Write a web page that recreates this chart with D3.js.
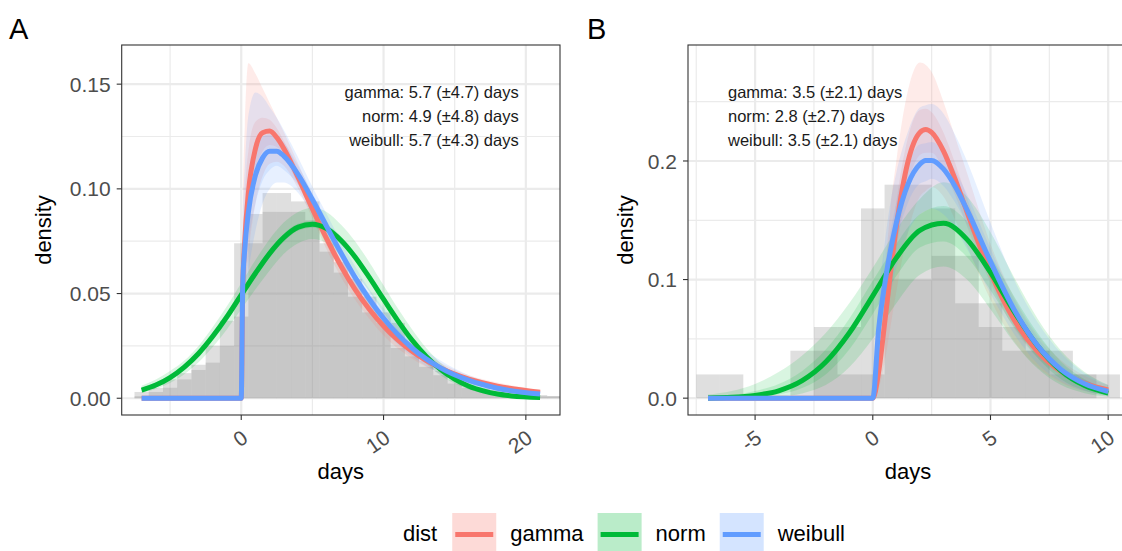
<!DOCTYPE html>
<html>
<head>
<meta charset="utf-8">
<script src="https://d3js.org/d3.v7.min.js"></script>
<style>
  body { margin: 0; background: #fff; }
  svg { display: block; font-family: 'Liberation Sans', Arial, Helvetica, sans-serif; }
</style>
</head>
<body>
<svg id="chart" width="1122" height="551"></svg>
<script>
const dists = ['gamma', 'norm', 'weibull'];
const distColors = ['#F8766D', '#00BA38', '#619CFF'];

// ---- panel A data ----
const binsA = [-7, -6, -5, -4, -3, -2, -1, 0, 1, 2, 3, 4, 5, 6, 7, 8, 9, 10, 11, 12, 13, 14, 15, 16, 17, 18, 19, 20, 21, 22];
const histA1 = [0.003, 0.005, 0.009, 0.012, 0.016, 0.025, 0.037, 0.074, 0.088, 0.098, 0.089, 0.089, 0.085, 0.07, 0.06, 0.0485, 0.041, 0.036, 0.024, 0.02, 0.015, 0.011, 0.007, 0.005, 0.004, 0.003, 0.002, 0.0015, 0.001, 0.001];
const histA2 = [0.001, 0.003, 0.005, 0.009, 0.0135, 0.017, 0.025, 0.039, 0.074, 0.089, 0.098, 0.094, 0.094, 0.074, 0.065, 0.057, 0.0485, 0.041, 0.036, 0.024, 0.018, 0.013, 0.009, 0.006, 0.005, 0.004, 0.003, 0.002, 0.0015, 0.001];

const skewXA = [-7, 0, 0.1, 0.25, 0.5, 1, 1.5, 2, 2.5, 3, 4, 5, 6, 7, 8, 9, 10, 12, 14, 16, 18, 21];
const gammaA = [0, 0, 0.051, 0.0754, 0.0979, 0.1192, 0.1268, 0.1276, 0.1245, 0.1192, 0.1054, 0.0905, 0.0762, 0.0633, 0.052, 0.0425, 0.0345, 0.0224, 0.0144, 0.0091, 0.0058, 0.0029];
const gammaAHi95 = [0, 0, 0.09, 0.13, 0.16, 0.155, 0.148, 0.141, 0.134, 0.127, 0.112, 0.097, 0.082, 0.068, 0.056, 0.046, 0.038, 0.026, 0.017, 0.011, 0.0075, 0.004];
const gammaALo95 = [0, 0, 0.03, 0.048, 0.068, 0.093, 0.106, 0.112, 0.113, 0.111, 0.1, 0.086, 0.071, 0.058, 0.047, 0.038, 0.03, 0.019, 0.0118, 0.0072, 0.0043, 0.002];
const gammaAHi50 = [0, 0, 0.065, 0.095, 0.118, 0.132, 0.134, 0.133, 0.129, 0.123, 0.109, 0.093, 0.079, 0.066, 0.054, 0.044, 0.036, 0.024, 0.0155, 0.01, 0.0065, 0.0034];
const gammaALo50 = [0, 0, 0.042, 0.063, 0.085, 0.108, 0.118, 0.121, 0.12, 0.115, 0.102, 0.088, 0.073, 0.061, 0.05, 0.041, 0.033, 0.021, 0.0133, 0.0083, 0.0051, 0.0025];
const weibullA = [0, 0, 0.0529, 0.0715, 0.0887, 0.1065, 0.1148, 0.118, 0.118, 0.1156, 0.1068, 0.0949, 0.0821, 0.0695, 0.0577, 0.0473, 0.0382, 0.024, 0.0145, 0.0085, 0.0048, 0.002];
const weibullAHi95 = [0, 0, 0.085, 0.11, 0.135, 0.146, 0.144, 0.139, 0.134, 0.128, 0.115, 0.101, 0.088, 0.075, 0.063, 0.052, 0.043, 0.028, 0.018, 0.011, 0.0068, 0.0032];
const weibullALo95 = [0, 0, 0.03, 0.045, 0.06, 0.08, 0.093, 0.1, 0.103, 0.103, 0.098, 0.088, 0.076, 0.064, 0.052, 0.042, 0.033, 0.02, 0.0115, 0.0062, 0.0032, 0.0011];
const weibullAHi50 = [0, 0, 0.065, 0.085, 0.104, 0.12, 0.125, 0.126, 0.125, 0.122, 0.111, 0.098, 0.085, 0.072, 0.06, 0.05, 0.041, 0.026, 0.016, 0.0095, 0.0056, 0.0025];
const weibullALo50 = [0, 0, 0.042, 0.058, 0.074, 0.093, 0.104, 0.109, 0.111, 0.109, 0.102, 0.091, 0.079, 0.067, 0.055, 0.045, 0.036, 0.022, 0.013, 0.0074, 0.004, 0.0015];

const normXA = [-7, -6, -5, -4, -3, -2, -1, 0, 1, 2, 3, 4, 5, 6, 7, 8, 9, 10, 11, 12, 13, 14, 15, 16, 17, 18, 19, 21];
const normA = [0.0039, 0.0063, 0.0099, 0.0149, 0.0214, 0.0296, 0.039, 0.0494, 0.0597, 0.0692, 0.0768, 0.0817, 0.0831, 0.081, 0.0755, 0.0675, 0.0577, 0.0473, 0.0371, 0.0278, 0.02, 0.0138, 0.0091, 0.0057, 0.0035, 0.002, 0.0011, 0.0004];
const normAHi95 = [0.006, 0.009, 0.013, 0.018, 0.025, 0.034, 0.044, 0.055, 0.066, 0.076, 0.084, 0.089, 0.091, 0.089, 0.083, 0.075, 0.065, 0.054, 0.043, 0.033, 0.024, 0.017, 0.012, 0.008, 0.005, 0.003, 0.002, 0.0006];
const normALo95 = [0.0025, 0.0044, 0.0073, 0.0115, 0.0172, 0.0245, 0.033, 0.0425, 0.052, 0.061, 0.069, 0.074, 0.076, 0.074, 0.068, 0.06, 0.051, 0.041, 0.032, 0.023, 0.0165, 0.011, 0.007, 0.0042, 0.0024, 0.0013, 0.0007, 0.0001];
const normAHi50 = [0.0048, 0.0075, 0.0113, 0.0165, 0.0232, 0.0316, 0.0412, 0.0516, 0.0618, 0.0712, 0.0787, 0.0834, 0.0848, 0.0828, 0.0774, 0.0694, 0.0596, 0.0492, 0.0389, 0.0294, 0.0213, 0.0148, 0.0099, 0.0063, 0.0039, 0.0023, 0.0013, 0.0004];
const normALo50 = [0.003, 0.0052, 0.0086, 0.0133, 0.0196, 0.0276, 0.0368, 0.0472, 0.0576, 0.0672, 0.0749, 0.08, 0.0814, 0.0792, 0.0736, 0.0656, 0.0558, 0.0454, 0.0353, 0.0262, 0.0187, 0.0128, 0.0083, 0.0051, 0.0031, 0.0017, 0.0009, 0.0002];

const annoA = ['gamma: 5.7 (\u00b14.7) days', 'norm: 4.9 (\u00b14.8) days', 'weibull: 5.7 (\u00b14.3) days'];

// ---- panel B data ----
const binsB = [-7, -6, -5, -4, -3, -2, -1, 0, 1, 2, 3, 4, 5, 6, 7, 8, 9, 10];
const histB1 = [0.02, 0, 0, 0, 0.04, 0.06, 0.02, 0.16, 0.18, 0.1, 0.12, 0.08, 0.06, 0.04, 0.04, 0.02, 0.02, 0];
const histB2 = [0, 0.02, 0, 0, 0, 0.04, 0.06, 0.02, 0.1, 0.18, 0.16, 0.12, 0.08, 0.06, 0.04, 0.04, 0.02, 0.02];

const skewXB = [-7, 0, 0.25, 0.5, 0.75, 1, 1.5, 2, 2.25, 2.5, 3, 3.5, 4, 5, 6, 7, 8, 9, 10];
const gammaB = [0, 0, 0.0223, 0.0627, 0.1057, 0.1445, 0.1999, 0.2241, 0.2266, 0.2241, 0.2085, 0.1844, 0.1571, 0.1057, 0.0661, 0.0393, 0.0225, 0.0126, 0.0069];
const gammaBHi95 = [0, 0, 0.04, 0.1, 0.16, 0.2, 0.26, 0.283, 0.281, 0.275, 0.25, 0.22, 0.19, 0.13, 0.085, 0.053, 0.032, 0.019, 0.011];
const gammaBLo95 = [0, 0, 0.008, 0.03, 0.06, 0.09, 0.14, 0.17, 0.175, 0.178, 0.17, 0.15, 0.128, 0.083, 0.048, 0.026, 0.013, 0.006, 0.003];
const gammaBHi50 = [0, 0, 0.03, 0.078, 0.125, 0.165, 0.22, 0.243, 0.244, 0.241, 0.224, 0.198, 0.169, 0.115, 0.073, 0.045, 0.026, 0.015, 0.0085];
const gammaBLo50 = [0, 0, 0.015, 0.048, 0.087, 0.124, 0.18, 0.205, 0.207, 0.207, 0.193, 0.171, 0.145, 0.097, 0.059, 0.034, 0.019, 0.0102, 0.0053];
const weibullB = [0, 0, 0.0585, 0.0952, 0.1243, 0.1478, 0.1807, 0.1973, 0.2004, 0.2005, 0.1933, 0.1785, 0.159, 0.1151, 0.0748, 0.0443, 0.0241, 0.0121, 0.0056];
const weibullBHi95 = [0, 0, 0.085, 0.13, 0.165, 0.19, 0.225, 0.245, 0.247, 0.248, 0.24, 0.222, 0.2, 0.148, 0.1, 0.064, 0.038, 0.021, 0.011];
const weibullBLo95 = [0, 0, 0.035, 0.063, 0.088, 0.11, 0.14, 0.155, 0.158, 0.16, 0.155, 0.143, 0.126, 0.088, 0.054, 0.029, 0.014, 0.006, 0.002];
const weibullBHi50 = [0, 0, 0.07, 0.11, 0.14, 0.165, 0.198, 0.214, 0.215, 0.216, 0.208, 0.192, 0.172, 0.126, 0.083, 0.051, 0.029, 0.015, 0.0075];
const weibullBLo50 = [0, 0, 0.048, 0.082, 0.11, 0.132, 0.165, 0.181, 0.183, 0.185, 0.179, 0.165, 0.147, 0.105, 0.067, 0.038, 0.02, 0.0095, 0.004];

const normXB = [-7, -6, -5, -4, -3, -2, -1, 0, 1, 2, 3, 4, 5, 6, 7, 8, 9, 10];
const normB = [0.0002, 0.0007, 0.0023, 0.0062, 0.0147, 0.0304, 0.0549, 0.0863, 0.1183, 0.1414, 0.1474, 0.1339, 0.106, 0.0732, 0.0441, 0.0231, 0.0106, 0.0042];
const normBHi95 = [0.003, 0.006, 0.012, 0.022, 0.036, 0.055, 0.08, 0.11, 0.142, 0.168, 0.182, 0.17, 0.14, 0.102, 0.067, 0.04, 0.022, 0.011];
const normBLo95 = [0, 0, 0.0003, 0.0012, 0.004, 0.011, 0.026, 0.05, 0.08, 0.104, 0.111, 0.1, 0.075, 0.047, 0.025, 0.011, 0.0042, 0.0013];
const normBHi50 = [0.001, 0.0025, 0.006, 0.012, 0.023, 0.041, 0.067, 0.099, 0.13, 0.155, 0.162, 0.149, 0.12, 0.086, 0.055, 0.031, 0.016, 0.0075];
const normBLo50 = [0, 0.0001, 0.0008, 0.003, 0.0085, 0.02, 0.041, 0.071, 0.103, 0.127, 0.132, 0.119, 0.091, 0.06, 0.034, 0.016, 0.0065, 0.0022];

const annoB = ['gamma: 3.5 (\u00b12.1) days', 'norm: 2.8 (\u00b12.7) days', 'weibull: 3.5 (\u00b12.1) days'];

// TODO: layout constants
const textGrey = '#4d4d4d';
const gridGrey = '#ebebeb';

const svg = d3.select('#chart');
svg.append('rect').attr('width', 1122).attr('height', 551).attr('fill', '#fff');

function zip(xs, ys) {
  return xs.map((x, i) => ({ x, y: ys[i] }));
}
function zipBand(xs, lo, hi) {
  return xs.map((x, i) => ({ x, lo: lo[i], hi: hi[i] }));
}

function drawPanel(p) {
  const x = d3.scaleLinear().domain(p.xDomain).range([p.left, p.right]);
  const y = d3.scaleLinear().domain(p.yDomain).range([p.bottom, p.top]);
  const g = svg.append('g');

  const clipId = `clip-${p.label}`;
  g.append('clipPath').attr('id', clipId)
    .append('rect')
    .attr('x', p.left).attr('y', p.top)
    .attr('width', p.right - p.left).attr('height', p.bottom - p.top);

  // Grid
  const grid = g.append('g').attr('clip-path', `url(#${clipId})`);
  const vLines = (vals, w) => grid.append('g').selectAll('line').data(vals).join('line')
    .attr('x1', (d) => x(d)).attr('x2', (d) => x(d))
    .attr('y1', p.top).attr('y2', p.bottom)
    .attr('stroke', gridGrey).attr('stroke-width', w);
  const hLines = (vals, w) => grid.append('g').selectAll('line').data(vals).join('line')
    .attr('y1', (d) => y(d)).attr('y2', (d) => y(d))
    .attr('x1', p.left).attr('x2', p.right)
    .attr('stroke', gridGrey).attr('stroke-width', w);
  vLines(p.xMinor, 1.2);
  hLines(p.yMinor, 1.2);
  vLines(p.xTicks, 2.2);
  hLines(p.yTicks, 2.2);

  const plot = g.append('g').attr('clip-path', `url(#${clipId})`);

  // Histograms (overlaid, semi transparent)
  p.hists.forEach((h) => {
    plot.append('g').selectAll('rect')
      .data(p.bins.map((b, i) => ({ b, v: h[i] })).filter((d) => d.v > 0))
      .join('rect')
      .attr('x', (d) => x(d.b - 0.5))
      .attr('width', (d) => x(d.b + 0.5) - x(d.b - 0.5))
      .attr('y', (d) => y(d.v))
      .attr('height', (d) => y(0) - y(d.v))
      .attr('fill', '#7f7f7f')
      .attr('fill-opacity', 0.25);
  });

  // Ribbons
  const area = d3.area()
    .x((d) => x(d.x)).y0((d) => y(d.lo)).y1((d) => y(d.hi))
    .curve(d3.curveMonotoneX);
  p.series.forEach((s, i) => {
    s.bands.forEach((band) => {
      plot.append('path')
        .attr('d', area(band))
        .attr('fill', distColors[i])
        .attr('fill-opacity', 0.15);
    });
  });

  // Fitted density lines
  const line = d3.line().x((d) => x(d.x)).y((d) => y(d.y)).curve(d3.curveMonotoneX);
  p.series.forEach((s, i) => {
    plot.append('path')
      .attr('d', line(s.line))
      .attr('fill', 'none')
      .attr('stroke', distColors[i])
      .attr('stroke-width', 5)
      .attr('stroke-linejoin', 'round');
  });

  // Annotation
  const anno = g.append('text')
    .attr('font-size', 16.5)
    .attr('fill', '#1a1a1a')
    .attr('text-anchor', p.annoAnchor);
  p.anno.forEach((t, i) => {
    anno.append('tspan').attr('x', x(p.annoX)).attr('y', p.annoY + i * 24).text(t);
  });

  // Panel border
  g.append('rect')
    .attr('x', p.left).attr('y', p.top)
    .attr('width', p.right - p.left).attr('height', p.bottom - p.top)
    .attr('fill', 'none').attr('stroke', '#333333').attr('stroke-width', 1.1);

  // Y axis
  const yAx = g.append('g');
  yAx.selectAll('line').data(p.yTicks).join('line')
    .attr('x1', p.left - 5).attr('x2', p.left)
    .attr('y1', (d) => y(d)).attr('y2', (d) => y(d))
    .attr('stroke', '#333333').attr('stroke-width', 1.1);
  yAx.selectAll('text').data(p.yTicks).join('text')
    .attr('x', p.left - 11).attr('y', (d) => y(d)).attr('dy', '0.36em')
    .attr('text-anchor', 'end').attr('font-size', 21).attr('fill', textGrey)
    .text(p.yFormat);

  // X axis
  const xAx = g.append('g');
  xAx.selectAll('line').data(p.xTicks).join('line')
    .attr('x1', (d) => x(d)).attr('x2', (d) => x(d))
    .attr('y1', p.bottom).attr('y2', p.bottom + 5)
    .attr('stroke', '#333333').attr('stroke-width', 1.1);
  xAx.selectAll('text').data(p.xTicks).join('text')
    .attr('transform', (d) => `translate(${x(d) + 8},${p.bottom + 26}) rotate(-35)`)
    .attr('text-anchor', 'end').attr('font-size', 21).attr('fill', textGrey)
    .text((d) => d3.format('d')(d).replace('\u2212', '-'));

  // Titles
  g.append('text')
    .attr('x', (p.left + p.right) / 2).attr('y', 479)
    .attr('text-anchor', 'middle').attr('font-size', 22).attr('fill', '#000')
    .text('days');
  g.append('text')
    .attr('transform', `translate(${p.yTitleX},${(p.top + p.bottom) / 2}) rotate(-90)`)
    .attr('text-anchor', 'middle').attr('font-size', 22).attr('fill', '#000')
    .text('density');
  g.append('text')
    .attr('x', p.tagX).attr('y', 39)
    .attr('font-size', 29).attr('fill', '#000')
    .text(p.label);
}

drawPanel({
  label: 'A',
  tagX: 9,
  left: 121.7, right: 560, top: 45, bottom: 415,
  xDomain: [-8.4, 22.4],
  yDomain: [-0.008, 0.1687],
  xTicks: [0, 10, 20],
  xMinor: [-5, 5, 15],
  yTicks: [0, 0.05, 0.1, 0.15],
  yMinor: [0.025, 0.075, 0.125],
  yFormat: d3.format('.2f'),
  yTitleX: 51,
  bins: binsA,
  hists: [histA1, histA2],
  series: [
    { line: zip(skewXA, gammaA), bands: [zipBand(skewXA, gammaALo95, gammaAHi95), zipBand(skewXA, gammaALo50, gammaAHi50)] },
    { line: zip(normXA, normA), bands: [zipBand(normXA, normALo95, normAHi95), zipBand(normXA, normALo50, normAHi50)] },
    { line: zip(skewXA, weibullA), bands: [zipBand(skewXA, weibullALo95, weibullAHi95), zipBand(skewXA, weibullALo50, weibullAHi50)] },
  ],
  anno: annoA,
  annoX: 19.5,
  annoY: 98,
  annoAnchor: 'end',
});

drawPanel({
  label: 'B',
  tagX: 587,
  left: 688, right: 1128.2, top: 45, bottom: 415,
  xDomain: [-7.85, 10.85],
  yDomain: [-0.0142, 0.2978],
  xTicks: [-5, 0, 5, 10],
  xMinor: [-7.5, -2.5, 2.5, 7.5],
  yTicks: [0, 0.1, 0.2],
  yMinor: [0.05, 0.15, 0.25],
  yFormat: d3.format('.1f'),
  yTitleX: 633,
  bins: binsB,
  hists: [histB1, histB2],
  series: [
    { line: zip(skewXB, gammaB), bands: [zipBand(skewXB, gammaBLo95, gammaBHi95), zipBand(skewXB, gammaBLo50, gammaBHi50)] },
    { line: zip(normXB, normB), bands: [zipBand(normXB, normBLo95, normBHi95), zipBand(normXB, normBLo50, normBHi50)] },
    { line: zip(skewXB, weibullB), bands: [zipBand(skewXB, weibullBLo95, weibullBHi95), zipBand(skewXB, weibullBLo50, weibullBHi50)] },
  ],
  anno: annoB,
  annoX: -6.15,
  annoY: 98,
  annoAnchor: 'start',
});

// Legend
const legend = svg.append('g');
const legendTitle = legend.append('text')
  .attr('x', 403).attr('y', 541)
  .attr('font-size', 22).attr('fill', '#000')
  .text('dist');
let cursor = 403 + legendTitle.node().getComputedTextLength() + 15;
dists.forEach((name, i) => {
  legend.append('rect')
    .attr('x', cursor).attr('y', 513)
    .attr('width', 44).attr('height', 42)
    .attr('fill', distColors[i]).attr('fill-opacity', 0.27);
  legend.append('line')
    .attr('x1', cursor + 3).attr('x2', cursor + 41)
    .attr('y1', 534.5).attr('y2', 534.5)
    .attr('stroke', distColors[i]).attr('stroke-width', 5);
  const label = legend.append('text')
    .attr('x', cursor + 58).attr('y', 541)
    .attr('font-size', 22).attr('fill', '#000')
    .text(name);
  cursor += 58 + label.node().getComputedTextLength() + 14;
});
</script>
</body>
</html>
